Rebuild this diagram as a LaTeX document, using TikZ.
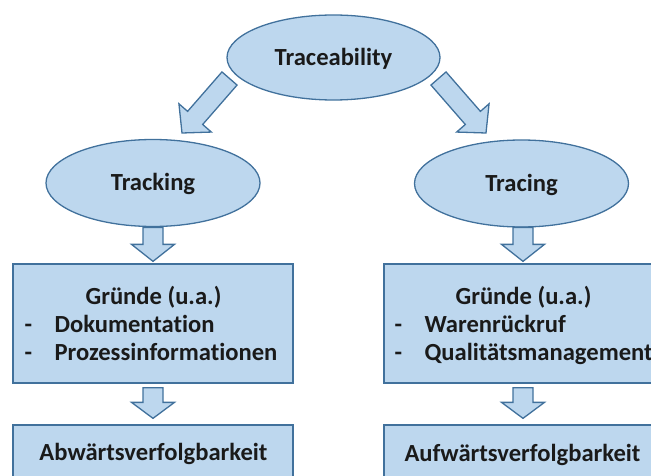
\documentclass[tikz,border=0pt]{standalone}
\usepackage{fontspec}
\setmainfont{Carlito}[Ligatures={NoCommon}]
\usetikzlibrary{calc,shapes.geometric}

\definecolor{shapefill}{RGB}{189,215,238}
\definecolor{shapeline}{RGB}{65,113,156}
\definecolor{ink}{RGB}{26,26,26}

% Block arrow from tail #2 to tip #3; #1 = head length
\newcommand\blockarrow[3][18]{%
  \coordinate (headbase) at ($(#3)!#1pt!(#2)$);
  \draw[bluefill, line join=miter]
    ($(#2)!10pt!90:(#3)$) -- ($(headbase)!10pt!90:(#3)$) --
    ($(headbase)!21.5pt!90:(#3)$) -- (#3) --
    ($(headbase)!21.5pt!-90:(#3)$) -- ($(headbase)!10pt!-90:(#3)$) --
    ($(#2)!10pt!-90:(#3)$) -- cycle;}

\begin{document}
\begin{tikzpicture}[x=1pt,y=-1pt,
  bluefill/.style={draw=shapeline, fill=shapefill, line width=1.3pt},
  txt/.style={font=\bfseries\fontsize{24.6}{28}\selectfont, text=ink, inner sep=0pt},
  oval/.style={bluefill, txt, ellipse, inner sep=0pt, text height=15.6pt, text depth=0pt},
  panel/.style={bluefill, rectangle, inner sep=0pt, minimum width=280pt}]

\useasboundingbox (0,0) rectangle (651,476);
\clip (0,0) rectangle (651,476);

% ovals
\node[oval, minimum width=213pt, minimum height=85pt] (trace) at (333.5,57.5) {Traceability};
\node[oval, minimum width=214pt, minimum height=87pt] (track) at (153,183) {Tracking};
\node[oval, minimum width=214pt, minimum height=87pt] (tracing) at (521.5,183.5) {Tracing};

% boxes
\node[panel, minimum height=119pt] (lreasons) at (153,323.5) {};
\node[panel, minimum height=119pt] (rreasons) at (524,323.5) {};
\node[panel, minimum height=70pt] (ldir) at (153,460) {};
\node[panel, minimum height=70pt] (rdir) at (524,460) {};

% box texts
\node[txt, anchor=base] (lhead) at ($(lreasons.north)+(0.5,41)$) {Gründe (u.a.)};
\node[txt, anchor=base west] (ldash1) at ($(lreasons.north west)+(12,69)$) {-};
\node[txt, anchor=base west] (ldash2) at ($(lreasons.north west)+(12,97)$) {-};
\node[txt, anchor=base west] (litem1) at ($(lreasons.north west)+(42,69)$) {Dokumentation};
\node[txt, anchor=base west] (litem2) at ($(lreasons.north west)+(42,97)$) {Prozessinformationen};

\node[txt, anchor=base] (rhead) at ($(rreasons.north)+(-0.5,41)$) {Gründe (u.a.)};
\node[txt, anchor=base west] (rdash1) at ($(rreasons.north west)+(11,69)$) {-};
\node[txt, anchor=base west] (rdash2) at ($(rreasons.north west)+(11,97)$) {-};
\node[txt, anchor=base west] (ritem1) at ($(rreasons.north west)+(41,69)$) {Warenrückruf};
\node[txt, anchor=base west] (ritem2) at ($(rreasons.north west)+(41,97)$) {Qualitätsmanagement};

\node[txt, anchor=base] (ldirtext) at ($(ldir.north)+(0.5,36)$) {Abwärtsverfolgbarkeit};
\node[txt, anchor=base] (rdirtext) at ($(rdir.north)+(-1.5,37)$) {Aufwärtsverfolgbarkeit};

% arrow ends
\coordinate (a1t) at (229.5,78.5);
\coordinate (a1p) at (182,133);
\coordinate (a2t) at (438.5,78.5);
\coordinate (a2p) at (486,133);
\coordinate (a3t) at ($(lreasons.north)+(0,-36)$);
\coordinate (a3p) at ($(lreasons.north)+(0,-2)$);
\coordinate (a4t) at ($(rreasons.north)+(-1,-36)$);
\coordinate (a4p) at ($(rreasons.north)+(-1,-2)$);
\coordinate (a5t) at ($(lreasons.south)+(0,4)$);
\coordinate (a5p) at ($(ldir.north)+(0,-6)$);
\coordinate (a6t) at ($(rreasons.south)+(-1,4)$);
\coordinate (a6p) at ($(rdir.north)+(-1,-6)$);

% arrows
\blockarrow[20]{a1t}{a1p}
\blockarrow[20]{a2t}{a2p}
\blockarrow[17]{a3t}{a3p}
\blockarrow[17]{a4t}{a4p}
\blockarrow[16]{a5t}{a5p}
\blockarrow[16]{a6t}{a6p}
\end{tikzpicture}
\end{document}
